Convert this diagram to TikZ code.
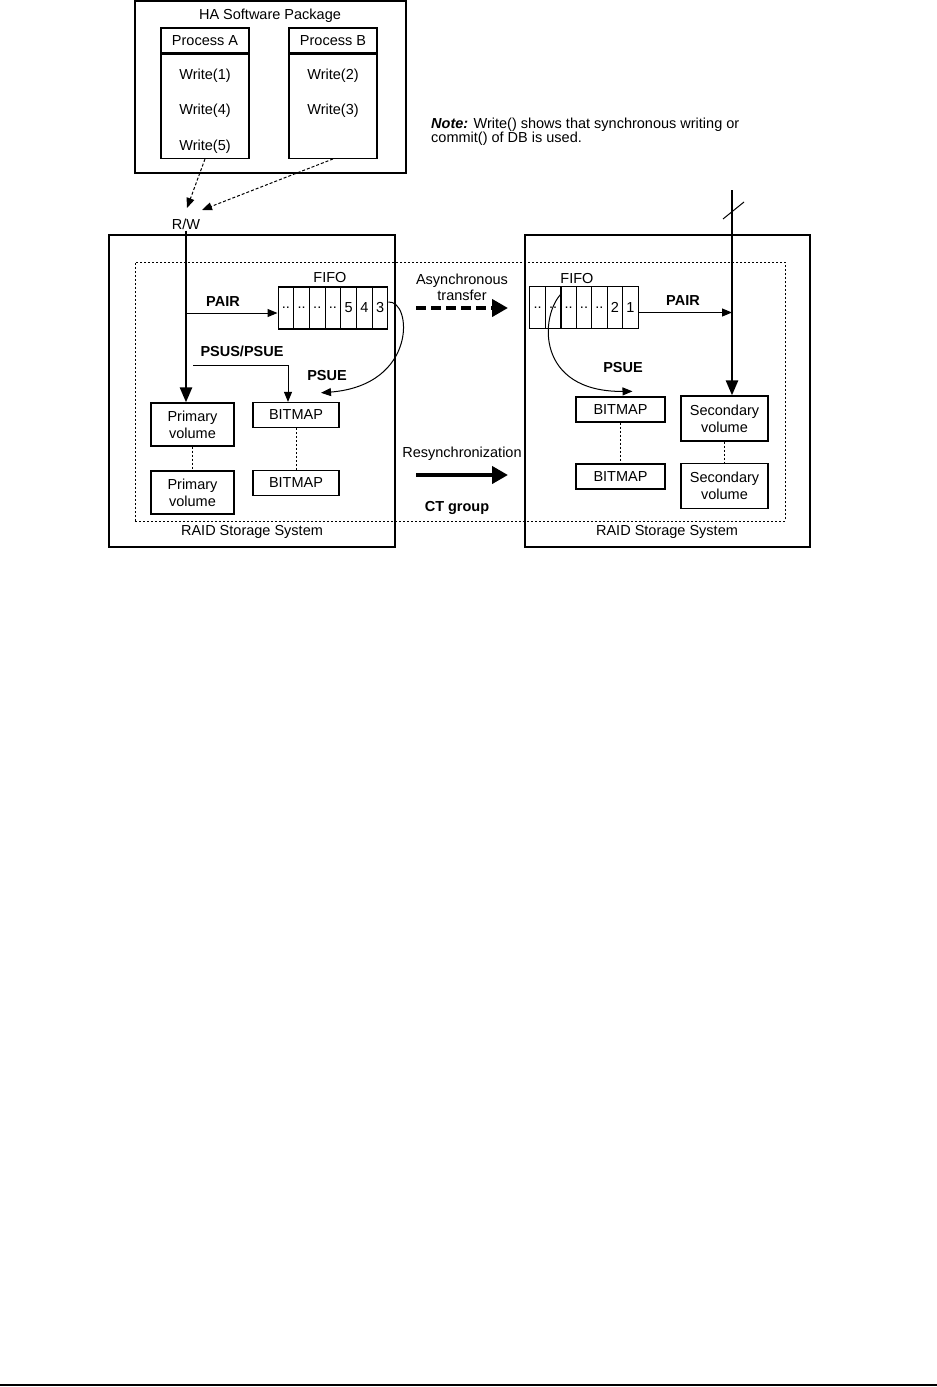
\documentclass[tikz,border=0pt]{standalone}
\usepackage{fontspec}
\setmainfont{Liberation Sans}
\usetikzlibrary{arrows.meta,positioning,calc}

\begin{document}
\begin{tikzpicture}[x=1pt, y=-1pt,
  every node/.style={font=\fontsize{14.5}{17}\selectfont, inner sep=0pt},
  box/.style={rectangle, draw, line width=1.3pt, align=center},
  cell/.style={rectangle, draw, line width=1.1pt, minimum width=15.6pt, minimum height=42pt},
  label/.style={font=\fontsize{14.5}{17}\selectfont\bfseries},
  thinarrow/.style={-{Triangle[length=10pt,width=8pt]}, line width=1pt},
  thickarrow/.style={-{Triangle[length=15pt,width=12pt]}, line width=2.6pt},
  bigarrow/.style={-{Triangle[length=16pt,width=17pt]}, line width=4.5pt},
  dotline/.style={dash pattern=on 2pt off 2pt, line width=1pt},
  callarrow/.style={dash pattern=on 3pt off 2pt, line width=1pt, -{Triangle[length=10pt,width=8pt]}}
]
\useasboundingbox (0,0) rectangle (937,1387);

% host side
\node[box, minimum width=271pt, minimum height=172pt] (ha) at (270.5,87) {};
\node (halabel) at (270,16) {HA Software Package};
\node[box, minimum width=88pt, minimum height=25pt] (procAhead) at (205,40.5) {Process A};
\node[box, minimum width=88pt, minimum height=104pt, below=0pt of procAhead] (procAbody) {};
\node[box, minimum width=88pt, minimum height=25pt] (procBhead) at (333,40.5) {Process B};
\node[box, minimum width=88pt, minimum height=104pt, below=0pt of procBhead] (procBbody) {};
\node (write1) at (205,75.5) {Write(1)};
\node (write4) at (205,110.5) {Write(4)};
\node (write5) at (205,146.5) {Write(5)};
\node (write2) at (333,75.5) {Write(2)};
\node (write3) at (333,110.5) {Write(3)};
\node[align=left, anchor=west, font=\fontsize{14.5}{14}\selectfont] (note) at (431,131.5)
  {\textbf{\textit{Note:}} Write() shows that synchronous writing or\\commit() of DB is used.};

\node[inner sep=1pt] (rw) at (186,224) {R/W};
\coordinate (rwA) at (187,208);
\coordinate (rwB) at (202,210);
\draw[callarrow] (procAbody.south) -- (rwA);
\draw[callarrow] (procBbody.south) -- (rwB);

% storage systems
\node[draw, dash pattern=on 2pt off 2pt, line width=1pt, minimum width=650pt, minimum height=259pt] (ctgroup) at (460,391.5) {};
\node[box, minimum width=286pt, minimum height=312pt] (raidL) at (252,391) {};
\node[box, minimum width=285pt, minimum height=312pt] (raidR) at (667.5,391) {};
\node (raidLlabel) at (252,532) {RAID Storage System};
\node (raidRlabel) at (667,532) {RAID Storage System};

% primary side
\node[box, minimum width=83pt, minimum height=43pt] (pv1) at (192.5,424.5) {Primary\\volume};
\node[box, minimum width=83pt, minimum height=43pt] (pv2) at (192.5,492.5) {Primary\\volume};
\node[box, minimum width=86pt, minimum height=25pt] (bmL1) at (296,415) {BITMAP};
\node[box, minimum width=86pt, minimum height=25pt] (bmL2) at (296,483) {BITMAP};
\draw[dotline] (pv1) -- (pv2);
\draw[dotline] (bmL1) -- (bmL2);

\foreach \lbl [count=\i] in {{..},{..},{..},{..},5,4,3}
  \node[cell] (fifoL\i) at ({278+15.7*(\i-0.5)},308) {\lbl};
\node (fifoLlabel) at (330,278) {FIFO};

\draw[thickarrow] (rw.south) -- (rw.south |- pv1.north);
\coordinate (pairL) at ($(fifoL1.west)+(0,5)$);
\draw[thinarrow] (rw.south |- pairL) -- (pairL);
\node[label] (pairLlabel) at (223,302) {PAIR};
\coordinate (psusStart) at (193,365);
\draw[thinarrow] (psusStart) -| ([xshift=-8pt]bmL1.north);
\node[label] (psusLabel) at (242,351) {PSUS/PSUE};
\draw[thinarrow] ([yshift=6pt]fifoL7.east) .. controls (412,300) and (418,385) .. ([xshift=25pt,yshift=9pt]bmL1.north);
\node[label] (psueLlabel) at (327,376) {PSUE};

% between the systems
\node[align=center, font=\fontsize{14.5}{16.5}\selectfont] (asyncLabel) at (462,287.5) {Asynchronous\\transfer};
\coordinate (asyncFrom) at (416,308);
\coordinate (asyncTo) at (508,308);
\draw[bigarrow, dash pattern=on 10pt off 5pt] (asyncFrom) -- (asyncTo);
\node (resyncLabel) at (462,454) {Resynchronization};
\coordinate (resyncFrom) at (416,475);
\coordinate (resyncTo) at (508,475);
\draw[bigarrow] (resyncFrom) -- (resyncTo);
\node[label] (ctLabel) at (457,508) {CT group};

% secondary side
\foreach \lbl [count=\i] in {{..},{..},{..},{..},{..},2,1}
  \node[cell] (fifoR\i) at ({530+15.43*(\i-0.5)},307.5) {\lbl};
\node (fifoRlabel) at (577,279) {FIFO};
\node[box, minimum width=87pt, minimum height=45pt] (sv1) at (724.5,418.5) {Secondary\\volume};
\node[box, minimum width=87pt, minimum height=45pt] (sv2) at (724.5,486) {Secondary\\volume};
\node[box, minimum width=89pt, minimum height=25pt] (bmR1) at (620.5,409.5) {BITMAP};
\node[box, minimum width=89pt, minimum height=25pt] (bmR2) at (620.5,476.5) {BITMAP};
\draw[dotline] (sv1) -- (sv2);
\draw[dotline] (bmR1) -- (bmR2);

\coordinate (svTop) at (732,190);
\draw[thickarrow] (svTop) -- (svTop |- sv1.north);
\draw[line width=1pt] ([shift={(-9,29)}]svTop) -- ([shift={(12,12)}]svTop);
\draw[thinarrow] ([yshift=-5pt]fifoR7.east) -- ([yshift=-5pt]fifoR7.east -| svTop);
\node[label] (pairRlabel) at (683,301) {PAIR};
\draw[thinarrow] ([yshift=14pt]fifoR2.east) .. controls (540,315) and (535,392) .. ([xshift=12pt,yshift=5pt]bmR1.north);
\node[label] (psueRlabel) at (623,368) {PSUE};

% page rule
\draw[line width=2.5pt] (0,1385) -- (937,1385);
\end{tikzpicture}
\end{document}
